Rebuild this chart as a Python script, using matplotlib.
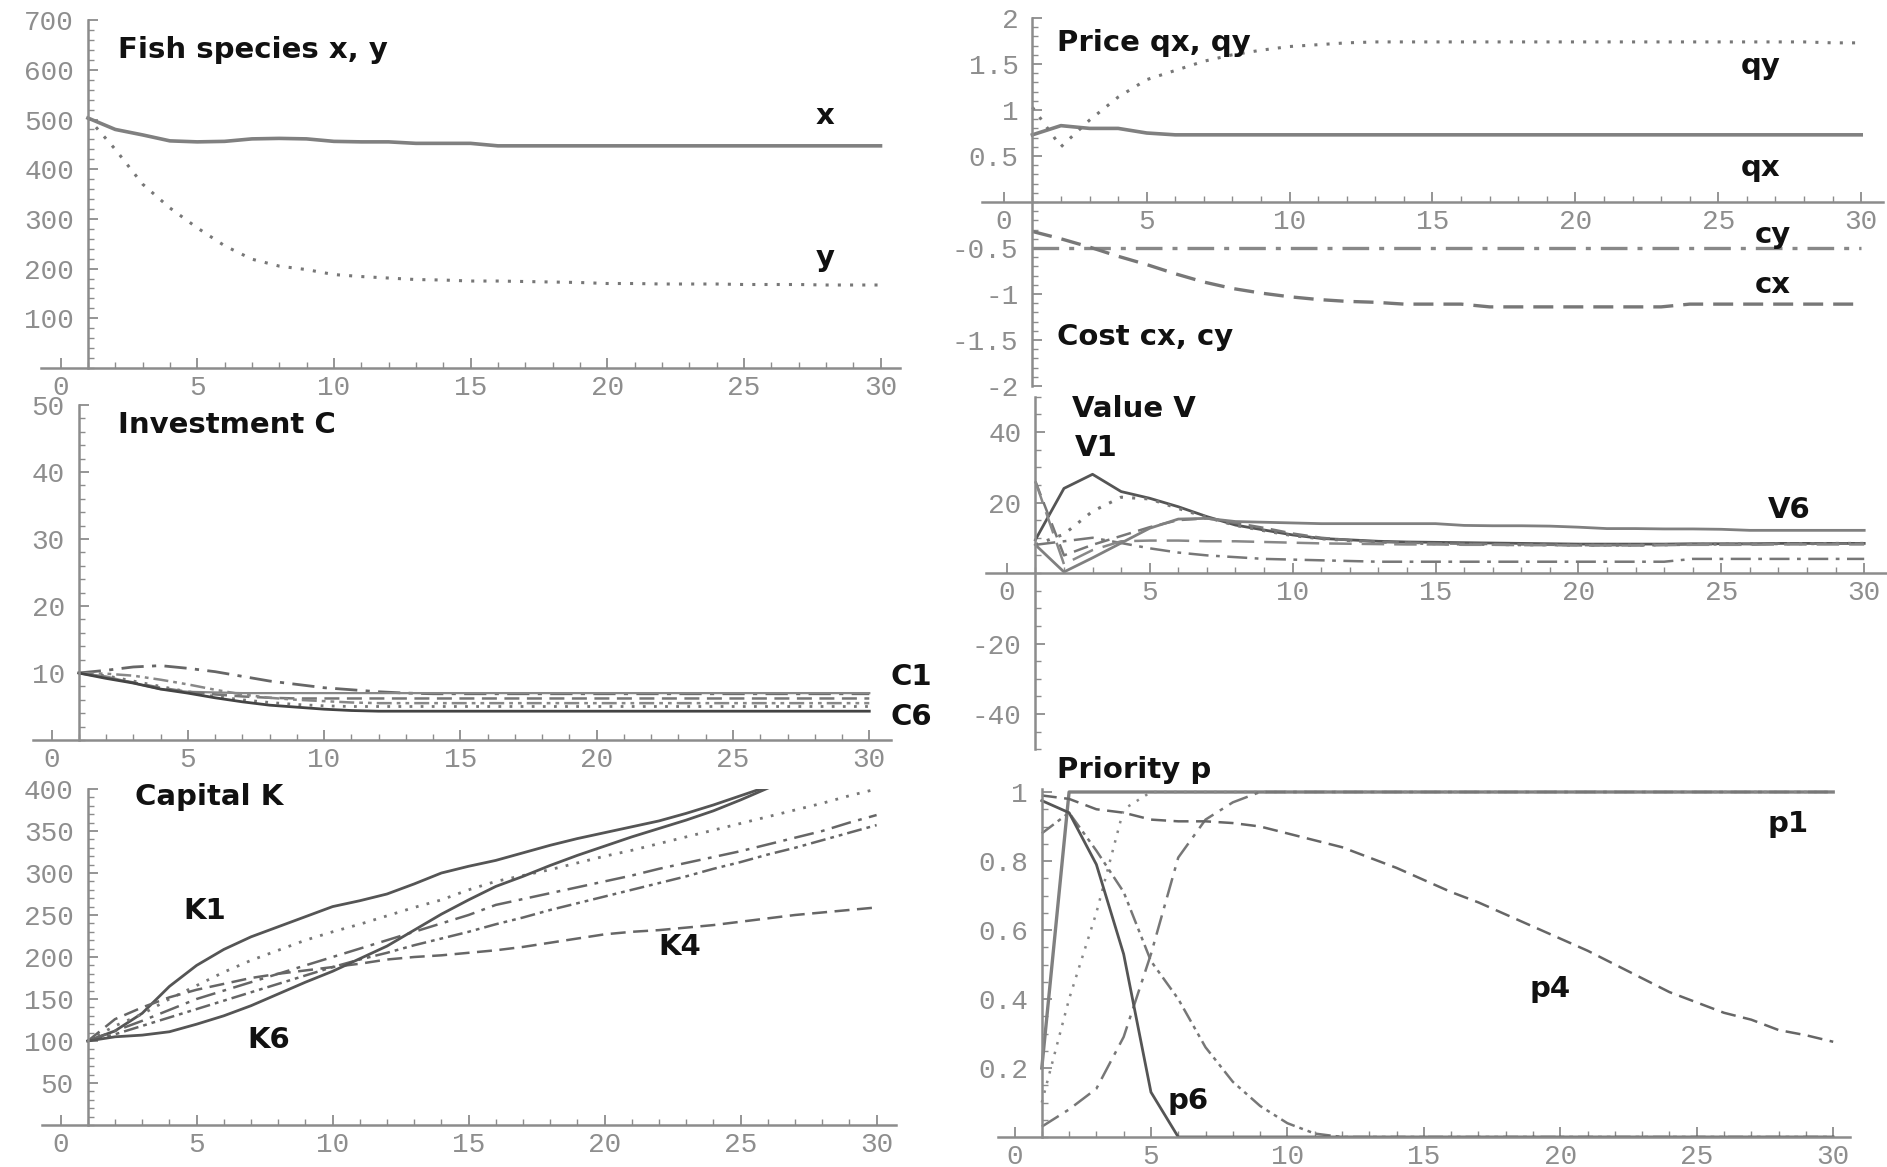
import matplotlib
matplotlib.use("Agg")
import matplotlib.pyplot as plt
from matplotlib.ticker import MultipleLocator

W, H = 1887, 1167

t = list(range(1, 31))

# fish stocks
fish_x = [503, 480, 469, 457, 455, 456, 461, 462, 461, 456, 455, 455, 452, 452, 452,
          447, 447, 447, 447, 447, 447, 447, 447, 447, 447, 447, 447, 447, 447, 447]
fish_y = [503, 440, 370, 322, 282, 246, 219, 205, 198, 188, 184, 181, 178, 177, 175,
          175, 174, 173, 172, 170, 170, 169, 169, 169, 168, 168, 168, 167, 167, 167]

# prices and costs
qx = [0.73, 0.83, 0.80, 0.80, 0.75, 0.73, 0.73, 0.73, 0.73, 0.73, 0.73, 0.73, 0.73, 0.73, 0.73,
      0.73, 0.73, 0.73, 0.73, 0.73, 0.73, 0.73, 0.73, 0.73, 0.73, 0.73, 0.73, 0.73, 0.73, 0.73]
qy = [1.03, 0.60, 0.89, 1.14, 1.33, 1.43, 1.53, 1.60, 1.65, 1.69, 1.71, 1.73, 1.74, 1.74, 1.74,
      1.74, 1.74, 1.74, 1.74, 1.74, 1.74, 1.74, 1.74, 1.74, 1.74, 1.74, 1.74, 1.74, 1.73, 1.73]
cy = [-0.50, -0.50, -0.50, -0.50, -0.50, -0.50, -0.50, -0.50, -0.50, -0.50, -0.50, -0.50, -0.50, -0.50, -0.50,
      -0.50, -0.50, -0.50, -0.50, -0.50, -0.50, -0.50, -0.50, -0.50, -0.50, -0.50, -0.50, -0.50, -0.50, -0.50]
cx = [-0.32, -0.40, -0.49, -0.59, -0.68, -0.78, -0.87, -0.94, -0.99, -1.03, -1.06, -1.08, -1.09, -1.11, -1.11,
      -1.11, -1.14, -1.14, -1.14, -1.14, -1.14, -1.14, -1.14, -1.11, -1.11, -1.11, -1.11, -1.11, -1.11, -1.11]

# investment
C1 = [10.0, 10.4, 10.9, 11.1, 10.7, 10.2, 9.5, 8.8, 8.3, 7.8, 7.5, 7.2, 7.0, 6.9, 6.9,
      6.9, 6.9, 6.9, 6.9, 6.9, 6.9, 6.9, 6.9, 6.9, 6.9, 6.9, 6.9, 6.9, 6.9, 6.9]
C2 = [10.0, 9.5, 8.5, 7.6, 7.2, 7.1, 7.0, 7.0, 7.0, 7.0, 7.0, 7.0, 7.0, 7.0, 7.0,
      7.0, 7.0, 7.0, 7.0, 7.0, 7.0, 7.0, 7.0, 7.0, 7.0, 7.0, 7.0, 7.0, 7.0, 7.0]
C3 = [10.0, 9.3, 8.6, 7.8, 7.2, 6.8, 6.5, 6.3, 6.2, 6.2, 6.2, 6.2, 6.2, 6.2, 6.2,
      6.2, 6.2, 6.2, 6.2, 6.2, 6.2, 6.2, 6.2, 6.2, 6.2, 6.2, 6.2, 6.2, 6.2, 6.2]
C4 = [10.0, 9.9, 9.6, 9.0, 8.3, 7.5, 6.8, 6.3, 6.0, 5.8, 5.6, 5.5, 5.5, 5.5, 5.5,
      5.5, 5.5, 5.5, 5.5, 5.5, 5.5, 5.5, 5.5, 5.5, 5.5, 5.5, 5.5, 5.5, 5.5, 5.5]
C5 = [10.0, 9.6, 8.8, 8.0, 7.2, 6.5, 6.0, 5.6, 5.3, 5.1, 5.0, 5.0, 5.0, 5.0, 5.0,
      5.0, 5.0, 5.0, 5.0, 5.0, 5.0, 5.0, 5.0, 5.0, 5.0, 5.0, 5.0, 5.0, 5.0, 5.0]
C6 = [10.0, 9.2, 8.5, 7.6, 7.0, 6.3, 5.7, 5.2, 4.9, 4.6, 4.4, 4.3, 4.3, 4.3, 4.3,
      4.3, 4.3, 4.3, 4.3, 4.3, 4.3, 4.3, 4.3, 4.3, 4.3, 4.3, 4.3, 4.3, 4.3, 4.3]

# value
V1 = [9.4, 24.0, 28.0, 23.1, 21.2, 18.8, 16.0, 13.6, 12.2, 10.8, 9.8, 9.4, 9.0, 8.8, 8.7,
      8.6, 8.5, 8.4, 8.3, 8.2, 8.2, 8.2, 8.2, 8.3, 8.3, 8.3, 8.4, 8.4, 8.4, 8.4]
V2 = [8.0, 11.0, 17.5, 21.5, 21.0, 18.3, 15.8, 13.5, 12.0, 10.6, 9.7, 9.2, 8.8, 8.5, 8.3,
      8.2, 8.1, 8.0, 8.0, 7.9, 7.9, 7.9, 8.0, 8.1, 8.2, 8.3, 8.3, 8.3, 8.4, 8.4]
V3 = [26.0, 5.0, 8.0, 10.5, 13.0, 15.0, 15.5, 14.2, 12.8, 11.2, 10.0, 9.3, 8.8, 8.6, 8.4,
      8.3, 8.2, 8.1, 8.0, 7.9, 7.9, 7.9, 8.0, 8.1, 8.2, 8.2, 8.3, 8.3, 8.3, 8.3]
V4 = [8.0, 9.0, 10.0, 8.5, 7.0, 5.8, 5.0, 4.5, 4.0, 3.8, 3.6, 3.4, 3.2, 3.2, 3.2,
      3.2, 3.2, 3.2, 3.2, 3.2, 3.2, 3.2, 3.2, 4.0, 4.0, 4.0, 4.0, 4.0, 4.0, 4.0]
V5 = [26.0, 2.5, 6.5, 9.0, 9.2, 9.2, 9.0, 9.0, 8.8, 8.6, 8.4, 8.3, 8.2, 8.1, 8.1,
      8.0, 8.0, 7.9, 7.9, 7.8, 7.8, 7.8, 7.9, 8.0, 8.0, 8.0, 8.1, 8.1, 8.1, 8.1]
V6 = [8.0, 0.3, 4.3, 8.5, 12.7, 15.3, 15.5, 14.6, 14.4, 14.2, 14.0, 14.0, 14.0, 14.0, 14.0,
      13.5, 13.4, 13.4, 13.3, 13.0, 12.6, 12.6, 12.5, 12.5, 12.4, 12.1, 12.1, 12.1, 12.1, 12.1]

# capital (runs past 400 are clipped like the original)
K1 = [100, 112, 133, 165, 190, 209, 224, 236, 248, 260, 267, 275, 287, 300, 308,
      315, 324, 333, 341, 348, 355, 362, 371, 381, 392, 403, 412, 420, 428, 436]
K2 = [100, 118, 132, 150, 166, 182, 196, 208, 220, 230, 239, 249, 259, 268, 280,
      290, 297, 304, 312, 320, 327, 335, 343, 351, 359, 367, 375, 383, 392, 400]
K3 = [100, 112, 124, 137, 150, 160, 170, 180, 190, 200, 210, 220, 230, 240, 250,
      262, 269, 276, 283, 290, 297, 305, 312, 319, 326, 334, 342, 350, 360, 369]
K4 = [100, 126, 140, 152, 161, 168, 175, 180, 184, 188, 192, 197, 200, 202, 205,
      208, 212, 217, 222, 227, 230, 232, 235, 238, 242, 246, 250, 253, 256, 259]
K5 = [100, 108, 118, 128, 138, 148, 158, 168, 178, 188, 197, 205, 214, 222, 230,
      239, 247, 256, 264, 272, 280, 288, 296, 305, 313, 322, 330, 339, 348, 357]
K6 = [100, 105, 107, 111, 120, 130, 142, 156, 170, 183, 198, 213, 232, 251, 268,
      284, 296, 309, 321, 332, 343, 353, 363, 374, 387, 401, 414, 426, 438, 450]

# priority
p1 = [0.20, 1.00, 1.00, 1.00, 1.00, 1.00, 1.00, 1.00, 1.00, 1.00, 1.00, 1.00, 1.00, 1.00, 1.00,
      1.00, 1.00, 1.00, 1.00, 1.00, 1.00, 1.00, 1.00, 1.00, 1.00, 1.00, 1.00, 1.00, 1.00, 1.00]
p2 = [0.10, 0.40, 0.65, 0.95, 1.00, 1.00, 1.00, 1.00, 1.00, 1.00, 1.00, 1.00, 1.00, 1.00, 1.00,
      1.00, 1.00, 1.00, 1.00, 1.00, 1.00, 1.00, 1.00, 1.00, 1.00, 1.00, 1.00, 1.00, 1.00, 1.00]
p3 = [0.03, 0.08, 0.14, 0.29, 0.53, 0.81, 0.92, 0.97, 1.00, 1.00, 1.00, 1.00, 1.00, 1.00, 1.00,
      1.00, 1.00, 1.00, 1.00, 1.00, 1.00, 1.00, 1.00, 1.00, 1.00, 1.00, 1.00, 1.00, 1.00, 1.00]
p4 = [0.99, 0.98, 0.95, 0.94, 0.92, 0.915, 0.915, 0.91, 0.90, 0.88, 0.86, 0.84, 0.81, 0.78, 0.745,
      0.71, 0.68, 0.645, 0.61, 0.575, 0.54, 0.50, 0.46, 0.42, 0.39, 0.36, 0.34, 0.31, 0.295, 0.276]
p5 = [0.88, 0.94, 0.83, 0.71, 0.51, 0.40, 0.26, 0.16, 0.09, 0.04, 0.01, 0.00, 0.00, 0.00, 0.00,
      0.00, 0.00, 0.00, 0.00, 0.00, 0.00, 0.00, 0.00, 0.00, 0.00, 0.00, 0.00, 0.00, 0.00, 0.00]
p6 = [0.975, 0.94, 0.79, 0.53, 0.13, 0.00, 0.00, 0.00, 0.00, 0.00, 0.00, 0.00, 0.00, 0.00, 0.00,
      0.00, 0.00, 0.00, 0.00, 0.00, 0.00, 0.00, 0.00, 0.00, 0.00, 0.00, 0.00, 0.00, 0.00, 0.00]

AXC = "#8c8c8c"
TXC = "#8e8e8e"
TICKFONT = dict(family="Liberation Mono", fontsize=20, color=TXC)
SOLID = "-"
DOT = (0, (1, 3))
DASH = (0, (6, 3))
DASHDOT = (0, (8, 3, 1.5, 3))
DASHDD = (0, (6, 2, 1.5, 2, 1.5, 2))

fig = plt.figure(figsize=(W / 100, H / 100), dpi=100)
fig.patch.set_facecolor("white")


def make_ax(x0, xs, xlim, y0, ys, ylim):
    # x0/xs: pixel of t=0 and pixels per unit; y0/ys: pixel of v=0 and pixels per unit
    left = x0 + xs * xlim[0]
    right = x0 + xs * xlim[1]
    top = y0 - ys * ylim[1]
    bottom = y0 - ys * ylim[0]
    ax = fig.add_axes([left / W, 1 - bottom / H, (right - left) / W, (bottom - top) / H])
    ax.set_xlim(*xlim)
    ax.set_ylim(*ylim)
    ax.set_facecolor("none")
    for s in ["top", "right"]:
        ax.spines[s].set_visible(False)
    ax.spines["left"].set_position(("data", 1))
    ax.spines["bottom"].set_position(("data", 0))
    for s in ["left", "bottom"]:
        ax.spines[s].set_color(AXC)
        ax.spines[s].set_linewidth(1.8)
    ax.xaxis.set_minor_locator(MultipleLocator(1))
    ax.tick_params(which="major", direction="in", length=7, width=1.3, color=AXC)
    ax.tick_params(which="minor", direction="in", length=4, width=1.0, color=AXC)
    ax.tick_params(axis="x", which="major", pad=5)
    ax.tick_params(axis="y", which="major", pad=10)
    return ax


def set_ticks(ax, vals, labels, minor):
    ax.set_yticks(vals)
    ax.set_yticklabels(labels, **TICKFONT)
    ax.yaxis.set_minor_locator(MultipleLocator(minor))
    ax.set_xticks([0, 5, 10, 15, 20, 25, 30])
    ax.set_xticklabels(["0", "5", "10", "15", "20", "25", "30"], **TICKFONT)


def label(x, y, s):
    fig.text(x / W, 1 - y / H, s, fontsize=21, fontweight="bold", family="DejaVu Sans",
             color="#111111", va="center", ha="left")


def line(ax, y, ls, c="#6a6a6a", lw=1.8):
    ax.plot(t, y, linestyle=ls, color=c, linewidth=lw)


# Fish species
ax = make_ax(60.6, 27.33, (-0.7, 30.7), 368, 0.497, (0, 700))
set_ticks(ax, [100, 200, 300, 400, 500, 600, 700],
          ["100", "200", "300", "400", "500", "600", "700"], 20)
line(ax, fish_x, SOLID, "#808080", 2.6)
line(ax, fish_y, DOT, "#777777", 2.2)
label(118, 50, "Fish species x, y")
label(816, 116, "x")
label(816, 258, "y")

# Price / cost
ax = make_ax(1003.8, 28.58, (-0.75, 30.75), 202, 92, (-2, 2))
set_ticks(ax, [-2, -1.5, -1, -0.5, 0.5, 1, 1.5, 2],
          ["-2", "-1.5", "-1", "-0.5", "0.5", "1", "1.5", "2"], 0.1)
line(ax, qx, SOLID, "#808080", 2.6)
line(ax, qy, DOT, "#777777", 2.2)
line(ax, cy, DASHDOT, "#888888", 2.4)
line(ax, cx, DASH, "#777777", 2.4)
label(1057, 43, "Price qx, qy")
label(1057, 337, "Cost cx, cy")
label(1741, 66, "qy")
label(1741, 168, "qx")
label(1755, 235, "cy")
label(1755, 285, "cx")

# Investment
ax = make_ax(51.5, 27.26, (-0.67, 30.8), 740, 6.7, (0, 50))
set_ticks(ax, [10, 20, 30, 40, 50], ["10", "20", "30", "40", "50"], 2)
line(ax, C1, DASHDOT, "#666666", 2.0)
line(ax, C2, SOLID, "#888888", 1.6)
line(ax, C3, DASH, "#777777", 1.8)
line(ax, C4, DASHDD, "#888888", 1.8)
line(ax, C5, DOT, "#777777", 2.0)
line(ax, C6, SOLID, "#444444", 2.0)
label(118, 425, "Investment C")
label(890, 677, "C1")
label(890, 717, "C6")

# Value
ax = make_ax(1006.8, 28.58, (-0.73, 30.75), 573, 3.525, (-50, 50))
set_ticks(ax, [-40, -20, 20, 40], ["-40", "-20", "20", "40"], 5)
line(ax, V1, SOLID, "#555555", 2.0)
line(ax, V2, DOT, "#777777", 2.2)
line(ax, V3, DASH, "#777777", 1.8)
line(ax, V4, DASHDOT, "#777777", 1.8)
line(ax, V5, (0, (9, 4)), "#888888", 1.8)
line(ax, V6, SOLID, "#808080", 2.0)
label(1072, 409, "Value V")
label(1075, 448, "V1")
label(1768, 510, "V6")

# Capital
ax = make_ax(60.6, 27.2, (-0.67, 30.7), 1125, 0.84, (0, 400))
set_ticks(ax, [50, 100, 150, 200, 250, 300, 350, 400],
          ["50", "100", "150", "200", "250", "300", "350", "400"], 10)
line(ax, K1, SOLID, "#555555", 2.0)
line(ax, K2, DOT, "#777777", 2.0)
line(ax, K3, DASHDOT, "#666666", 1.8)
line(ax, K4, DASH, "#666666", 1.8)
line(ax, K5, DASHDD, "#666666", 1.8)
line(ax, K6, SOLID, "#555555", 2.0)
label(135, 797, "Capital K")
label(183, 911, "K1")
label(247, 1040, "K6")
label(658, 947, "K4")

# Priority
ax = make_ax(1014.5, 27.29, (-0.6, 30.6), 1137, 345, (0, 1.01))
set_ticks(ax, [0.2, 0.4, 0.6, 0.8, 1.0], ["0.2", "0.4", "0.6", "0.8", "1"], 0.05)
line(ax, p1, SOLID, "#808080", 2.4)
line(ax, p2, DOT, "#888888", 1.8)
line(ax, p3, DASHDOT, "#777777", 1.8)
line(ax, p4, DASH, "#666666", 1.8)
line(ax, p5, DASHDD, "#777777", 1.8)
line(ax, p6, SOLID, "#555555", 2.0)
label(1057, 770, "Priority p")
label(1767, 824, "p1")
label(1530, 989, "p4")
label(1168, 1101, "p6")

fig.savefig("out.png", dpi=100, facecolor="white")
